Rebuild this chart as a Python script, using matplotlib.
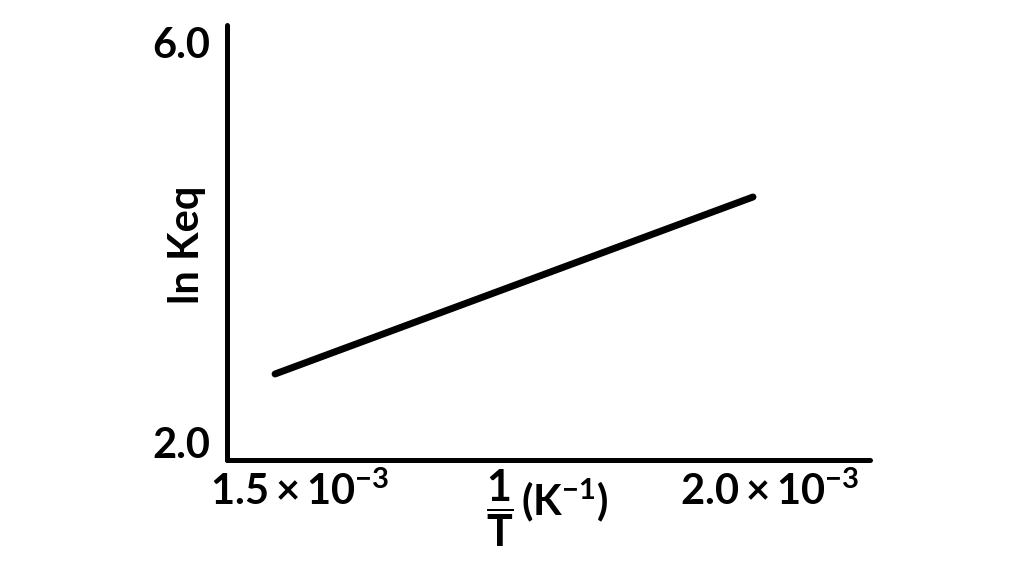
import matplotlib.pyplot as plt

# ln Keq vs 1/T (schematic van 't Hoff plot)
inv_T = [1.4734e-3, 1.9819e-3]
ln_keq = [2.69, 4.46]

x_ticks = [1.5e-3, 2.0e-3]
x_tick_labels = [r'$1.5\times10^{-3}$', r'$2.0\times10^{-3}$']
y_ticks = [2.0, 6.0]
y_tick_labels = ['2.0', '6.0']

plt.rcParams['font.family'] = ['Lato', 'DejaVu Sans']
plt.rcParams['font.weight'] = 'bold'
plt.rcParams['mathtext.fontset'] = 'custom'
plt.rcParams['mathtext.rm'] = 'Lato:bold'
plt.rcParams['mathtext.it'] = 'Lato:bold'
plt.rcParams['mathtext.bf'] = 'Lato:bold'

fig = plt.figure(figsize=(10.14, 5.88), dpi=100)
ax = fig.add_axes([0.2239, 0.2177, 0.8580 - 0.2239, 0.9575 - 0.2177])

ax.plot(inv_T, ln_keq, color='black', linewidth=5, solid_capstyle='round')

ax.set_xlim(1.4223e-3, 2.1064e-3)
ax.set_ylim(1.83, 6.18)

for s in ['top', 'right']:
    ax.spines[s].set_visible(False)
for s in ['left', 'bottom']:
    ax.spines[s].set_linewidth(3.6)
    ax.spines[s].set_capstyle('round')

ax.set_xticks(x_ticks, x_tick_labels)
ax.set_yticks(y_ticks, y_tick_labels)
ax.tick_params(length=0, labelsize=30)
ax.tick_params(axis='x', pad=8)
ax.tick_params(axis='y', pad=12)

# x axis label: 1/T (K^-1)
ax.text(0.4246, -0.018, r'$\dfrac{1}{T}$', transform=ax.transAxes,
        ha='center', va='top', fontsize=31)
ax.text(0.457, -0.093, r'$(\mathrm{K}^{-1})$', transform=ax.transAxes,
        ha='left', va='center', fontsize=30)

# y axis label
ax.text(-0.062, 0.494, 'ln Keq', transform=ax.transAxes, rotation=90,
        ha='center', va='center', fontsize=30, fontweight='bold')

fig.savefig('out.png', dpi=100)
